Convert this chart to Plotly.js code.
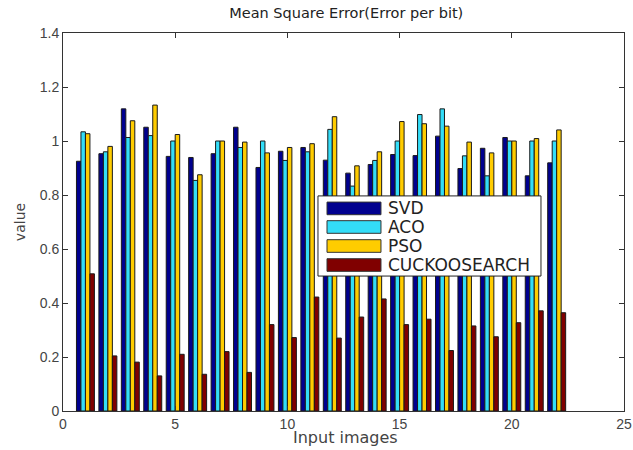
<!DOCTYPE html>
<html>
<head>
<meta charset="utf-8">
<script src="https://cdn.plot.ly/plotly-3.0.1.min.js"></script>
<style>html,body{margin:0;padding:0;background:#fff;}#chart{width:633px;height:450px;}</style>
</head>
<body>
<div id="chart"></div>
<script>
const images = [1,2,3,4,5,6,7,8,9,10,11,12,13,14,15,16,17,18,19,20,21,22];
const svd    = [0.925,0.953,1.119,1.051,0.943,0.939,0.953,1.051,0.902,0.962,0.976,0.929,0.881,0.913,0.950,0.946,1.018,0.898,0.973,1.013,0.871,0.919];
const aco    = [1.034,0.960,1.013,1.020,1.000,0.854,1.000,0.976,1.000,0.928,0.960,1.043,0.833,0.928,1.000,1.098,1.119,0.945,0.871,1.000,1.000,1.000];
const pso    = [1.027,0.980,1.075,1.133,1.024,0.875,1.000,0.996,0.956,0.976,0.990,1.090,0.908,0.960,1.072,1.064,1.055,0.996,0.956,1.000,1.009,1.041];
const cuckoo = [0.508,0.204,0.181,0.130,0.210,0.136,0.220,0.143,0.320,0.272,0.422,0.270,0.348,0.415,0.320,0.340,0.224,0.315,0.275,0.327,0.371,0.364];
const seriesNames = ['SVD','ACO','PSO','CUCKOOSEARCH'];
const seriesColors = ['#00008F','#33DDF8','#FFCC00','#800000'];
const seriesData = [svd, aco, pso, cuckoo];

const traces = seriesData.map((d,i)=>({
  type:'bar', x: images, y: d, name: seriesNames[i], showlegend:false,
  marker:{color: seriesColors[i], line:{color:'#1a1a1a', width:1}}
}));

// Legend (MATLAB style, wide swatches) drawn in paper coordinates
const legBox = {x0:0.4545, x1:0.852, y0:0.357, y1:0.569};
const rowY = [0.536, 0.4868, 0.4365, 0.3862];
const shapes = [{type:'rect', xref:'paper', yref:'paper', x0:legBox.x0, x1:legBox.x1, y0:legBox.y0, y1:legBox.y1,
  fillcolor:'#fff', line:{color:'#222', width:1}, layer:'above'}];
const annotations = [];
seriesNames.forEach((n,i)=>{
  shapes.push({type:'rect', xref:'paper', yref:'paper', x0:0.4706, x1:0.5668, y0:rowY[i]-0.0167, y1:rowY[i]+0.0167,
    fillcolor:seriesColors[i], line:{color:'#333', width:1}, layer:'above'});
  annotations.push({xref:'paper', yref:'paper', x:0.5758, y:rowY[i], xanchor:'left', yanchor:'middle', showarrow:false,
    text:n, font:{family:'DejaVu Sans, sans-serif', size:17, color:'#222'}});
});
// x-axis title positioned like the MATLAB figure
annotations.push({xref:'paper', yref:'paper', x:0.504, y:-0.07, xanchor:'center', yanchor:'middle', showarrow:false,
  text:'Input images', font:{family:'DejaVu Sans, sans-serif', size:16, color:'#444'}});

const tickFont = {family:'Liberation Sans, Arial, sans-serif', size:14, color:'#444'};
const layout = {
  width:633, height:450,
  margin:{l:63, r:9, t:33, b:39},
  paper_bgcolor:'#fff', plot_bgcolor:'#fff',
  barmode:'group', bargap:0.2, bargroupgap:0,
  title:{text:'Mean Square Error(Error per bit)', font:{family:'DejaVu Sans, sans-serif', size:14.5, color:'#222'}, x:0.547, xanchor:'center', y:0.972, yanchor:'middle'},
  xaxis:{range:[0,25], tickvals:[0,5,10,15,20,25], ticks:'inside', ticklen:5, tickcolor:'#333',
    showline:true, linecolor:'#333', linewidth:1, mirror:'ticks', showgrid:false, zeroline:false,
    tickfont:tickFont},
  yaxis:{range:[0,1.4], tickvals:[0,0.2,0.4,0.6,0.8,1,1.2,1.4], ticktext:['0','0.2','0.4','0.6','0.8','1','1.2','1.4'],
    ticks:'inside', ticklen:5, tickcolor:'#333',
    showline:true, linecolor:'#333', linewidth:1, mirror:'ticks', showgrid:false, zeroline:false,
    tickfont:tickFont, title:{text:'value', font:{family:'DejaVu Sans, sans-serif', size:14, color:'#444'}, standoff:10}},
  shapes: shapes,
  annotations: annotations,
  showlegend:false
};
Plotly.newPlot('chart', traces, layout, {displayModeBar:false, staticPlot:true});
</script>
</body>
</html>
